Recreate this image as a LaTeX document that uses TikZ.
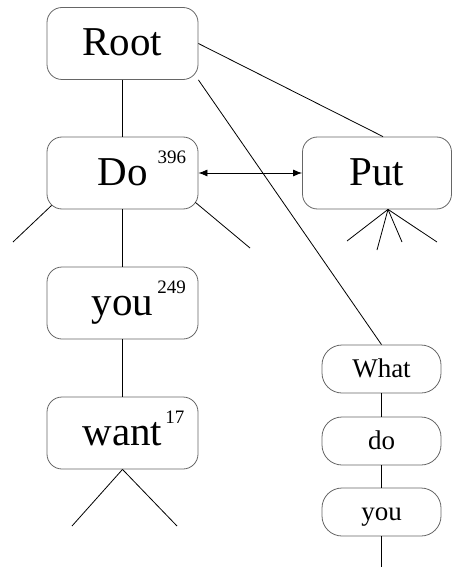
\documentclass[tikz,border=0pt]{standalone}
\usepackage{fontspec}
\setmainfont{Liberation Serif}
\usetikzlibrary{arrows.meta}
\newcommand{\cnt}[2]{\rlap{\kern#1\raisebox{22pt}{\fontsize{19}{19}\selectfont #2}}}
\tikzset{
  bigbox/.style={draw=gray!80!black, line width=0.8pt, rounded corners=15pt, minimum width=151pt, minimum height=72pt, inner sep=0pt, text height=28pt, text depth=4pt, font=\fontsize{41}{41}\selectfont},
  smallbox/.style={draw=gray!80!black, line width=0.8pt, rounded corners=20pt, minimum width=119pt, minimum height=48pt, inner sep=0pt, text height=19pt, text depth=3pt, font=\fontsize{27}{27}\selectfont},
  link/.style={line width=0.8pt}
}

\begin{document}
\begin{tikzpicture}[x=1pt,y=-1pt]
        \useasboundingbox (0,0) rectangle (452,567);
        % left chain
        \node[bigbox] (root) at (122.5,43.5) {Root};
        \node[bigbox] (do) at (122.5,173) {Do\cnt{10pt}{396}};
        \node[bigbox] (you) at (122.5,303) {you\cnt{4pt}{249}};
        \node[bigbox] (want) at (122.5,433) {want\cnt{3pt}{17}};
        % right side
        \node[bigbox, minimum width=149pt] (put) at (377,173) {Put};
        \node[smallbox] (what) at (381.5,369) {What};
        \node[smallbox] (do2) at (381.5,441) {do};
        \node[smallbox] (you2) at (381.5,512) {you};
        % loose ends
        \coordinate (dol) at (13,242);
        \coordinate (dor) at (250,248);
        \coordinate (wl) at (72,526);
        \coordinate (wr) at (177,526);
        \coordinate (pa) at (347,241);
        \coordinate (pb) at (377,250);
        \coordinate (pc) at (402,242);
        \coordinate (pd) at (437,242);
        \coordinate (end) at (381.5,567);
        % links
        \draw[link] (root) -- (do);
        \draw[link] (root.east) -- ([xshift=6pt]put.north);
        \draw[link] (root.south east) -- (what.north);
        \draw[link, {Latex[length=9pt,width=7pt]}-{Latex[length=9pt,width=7pt]}] (do.east) -- (put.west);
        \draw[link] ([shift={(5,-4)}]do.south west) -- (dol);
        \draw[link] ([shift={(-3,-7)}]do.south east) -- (dor);
        \draw[link] (do) -- (you);
        \draw[link] (you) -- (want);
        \draw[link] (want.south) -- (wl);
        \draw[link] (want.south) -- (wr);
        \foreach \p in {pa,pb,pc,pd}
          \draw[link] ([xshift=11pt]put.south) -- (\p);
        \draw[link] (what) -- (do2);
        \draw[link] (do2) -- (you2);
        \draw[link] (you2) -- (end);
\end{tikzpicture}
\end{document}
